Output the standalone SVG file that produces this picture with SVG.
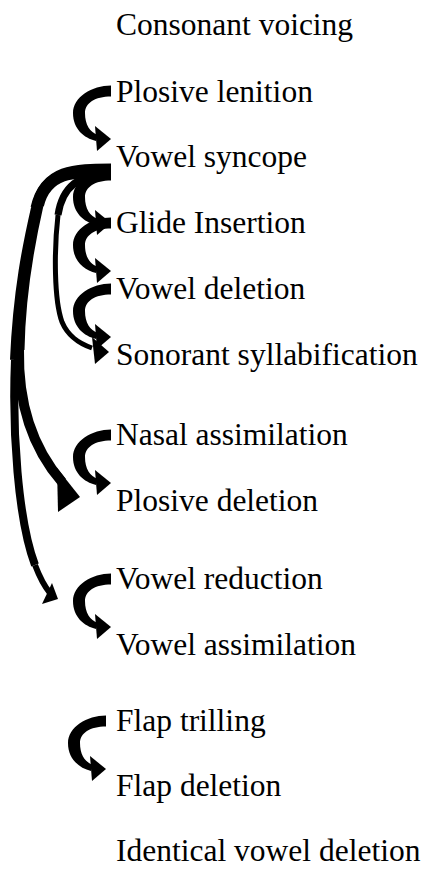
<svg xmlns="http://www.w3.org/2000/svg" width="428" height="870" viewBox="0 0 428 870">
<style>
.s { fill: none; stroke: #000; stroke-linecap: butt; }
.f { fill: #000; stroke: none; }
</style>
<defs>
<g id="curl">
<path class="f" d="M0,-5.5 C-19,-5.5 -38,6 -38,22 C-38,38 -27,47 -15,50 L-13,44 C-21,41 -26,34 -26,22 C-26,12 -16,5.5 0,5.5 Z"/>
<polygon class="f" points="-16,35 0,48 -14,60"/>
</g>
</defs>
<rect width="428" height="870" fill="#fff"/>
<g id="edges">
<use href="#curl" x="111" y="91"/>
<use href="#curl" x="111" y="175"/>
<use href="#curl" x="111" y="223"/>
<use href="#curl" x="111" y="289"/>
<use href="#curl" x="111" y="435"/>
<use href="#curl" x="111" y="579"/>
<use href="#curl" x="106" y="721"/>
<g id="e-syncope-reduction">
<path class="s" stroke-width="11" d="M111,169 C75,169 45,169 36,208"/>
<path class="s" stroke-width="10" d="M36,208 C28,243 18,290 15,360"/>
<path class="s" stroke-width="8" d="M15,360 C12,430 18,520 35,565"/>
<path class="s" stroke-width="6" d="M35,565 C40,578 45,587 50,593"/>
<polygon class="f" points="42,604 58,599 52,583"/>
</g>
<g id="e-syncope-plosivedel">
<path class="s" stroke-width="12" d="M111,171 C72,171 46,172 38,205"/>
<path class="s" stroke-width="11" d="M38,205 C30,240 20,290 19,350"/>
<path class="s" stroke-width="10" d="M19,350 C18,400 30,445 62,482"/>
<polygon class="f" points="57,468 80,497 58,512"/>
</g>
<g id="e-syncope-sonorant">
<path class="s" stroke-width="7" d="M111,173 C80,173 62,187 58,215"/>
<path class="s" stroke-width="5" d="M58,215 C54,250 54,300 62,322 C68,336 78,343 92,348"/>
<polygon class="f" points="92,337 109,352 95,364"/>
</g>
</g>
<g font-family="'Liberation Serif', serif" font-size="31.5" fill="#000">
<g id="n-consonant-voicing"><text x="116" y="35">Consonant voicing</text></g>
<g id="n-plosive-lenition"><text x="116" y="102">Plosive lenition</text></g>
<g id="n-vowel-syncope"><text x="116" y="167">Vowel syncope</text></g>
<g id="n-glide-insertion"><text x="116" y="233">Glide Insertion</text></g>
<g id="n-vowel-deletion"><text x="116" y="299">Vowel deletion</text></g>
<g id="n-sonorant-syllabification"><text x="116" y="365">Sonorant syllabification</text></g>
<g id="n-nasal-assimilation"><text x="116" y="445">Nasal assimilation</text></g>
<g id="n-plosive-deletion"><text x="116" y="511">Plosive deletion</text></g>
<g id="n-vowel-reduction"><text x="116" y="589">Vowel reduction</text></g>
<g id="n-vowel-assimilation"><text x="116" y="655">Vowel assimilation</text></g>
<g id="n-flap-trilling"><text x="116" y="731">Flap trilling</text></g>
<g id="n-flap-deletion"><text x="116" y="796">Flap deletion</text></g>
<g id="n-identical-vowel-deletion"><text x="116" y="861">Identical vowel deletion</text></g>
</g>
</svg>
